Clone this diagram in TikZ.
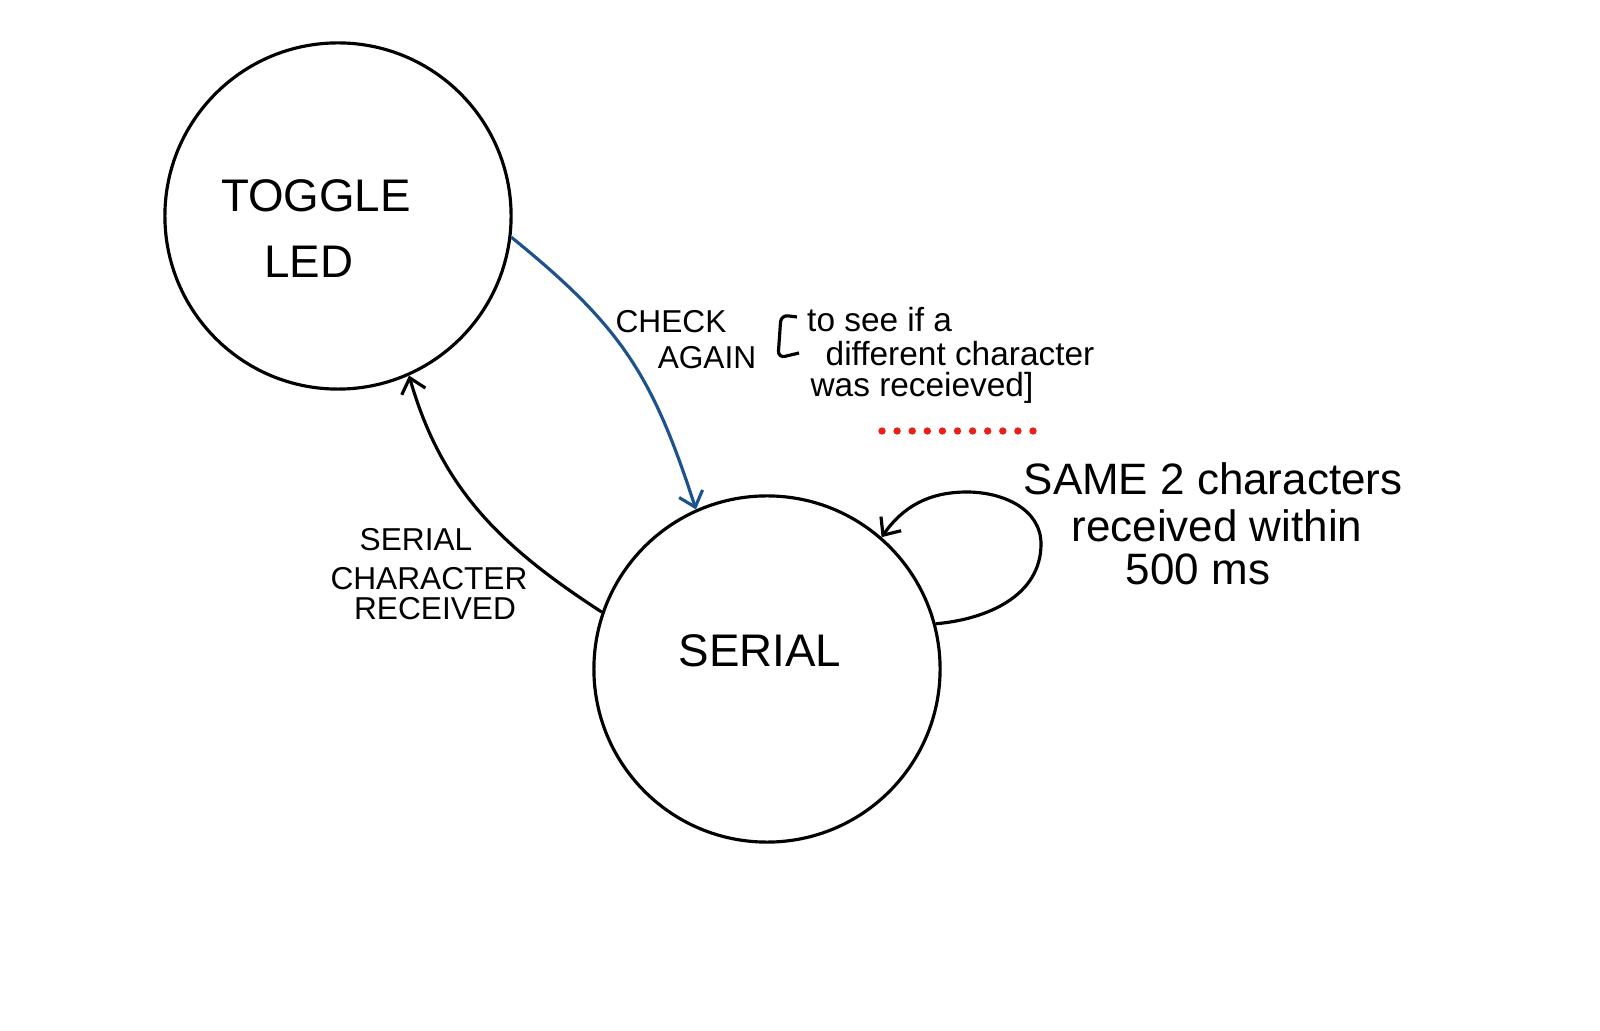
\documentclass[tikz,border=0pt]{standalone}
\usepackage{fontspec}
\setmainfont{Liberation Sans}
\usetikzlibrary{arrows.meta}
\definecolor{arrowblue}{RGB}{30,82,140}
\definecolor{dotred}{RGB}{232,32,26}
\begin{document}
\begin{tikzpicture}[x=0.01cm,y=0.01cm,
 state/.style={draw,circle,line width=0.9pt,minimum size=3.46cm,inner sep=0pt},
 big/.style={font=\fontsize{13}{15}\selectfont,anchor=base},
 smallcap/.style={font=\fontsize{9}{11}\selectfont,anchor=base},
 note/.style={font=\fontsize{9.5}{11}\selectfont,anchor=base,inner sep=1pt},
 loopnote/.style={font=\fontsize{12.5}{15}\selectfont,anchor=base},
 conn/.style={line width=0.9pt,-{Straight Barb[length=4pt,width=7pt]}},
]
\useasboundingbox (0,0) rectangle (1600,1030);
% states
\node[state] (toggle) at (338,814) {};
\node[state] (serial) at (767,361) {};
\node[big] (tgl) at (316,818) {TOGGLE};
\node[big] (led) at (309,752) {LED};
\node[big] (ser) at (760,363) {SERIAL};
% connectors
\draw[conn,draw=arrowblue] (toggle.-7) to[out=-39,in=108,looseness=1.1] (serial.114);
\draw[conn] (serial.161) to[out=147,in=-74] (toggle.-66);
\coordinate (loopR) at (1041,486);
\coordinate (loopT) at (967,538);
\draw[conn] (serial.15) to[out=5,in=-90] (loopR) to[out=90,in=0] (loopT) to[out=180,in=55] (serial.49);
% labels
\node[smallcap] (chk) at (671,697) {CHECK};
\node[smallcap] (agn) at (707,661) {AGAIN};
\draw[line width=0.9pt,line join=round,rounded corners=2pt] (797,713) -- (781,715) -- (778,672) -- (799,677);
\node[note,anchor=base west] (n1) at (803,698) {to see if a};
\node[note] (n2) at (960,664) {different character};
\node[note] (n3) at (922,633) {was receieved]};
\foreach \i in {0,...,10} \fill[dotred] (882+15.1*\i,599) circle[radius=1.05pt];
\node[loopnote] (l1) at (1213,535) {SAME 2 characters};
\node[loopnote] (l2) at (1217,488) {received within};
\node[loopnote] (l3) at (1198,445) {500 ms};
\node[smallcap] (s1) at (416,479) {SERIAL};
\node[smallcap] (s2) at (429,440) {CHARACTER};
\node[smallcap] (s3) at (435,410) {RECEIVED};
\end{tikzpicture}
\end{document}
